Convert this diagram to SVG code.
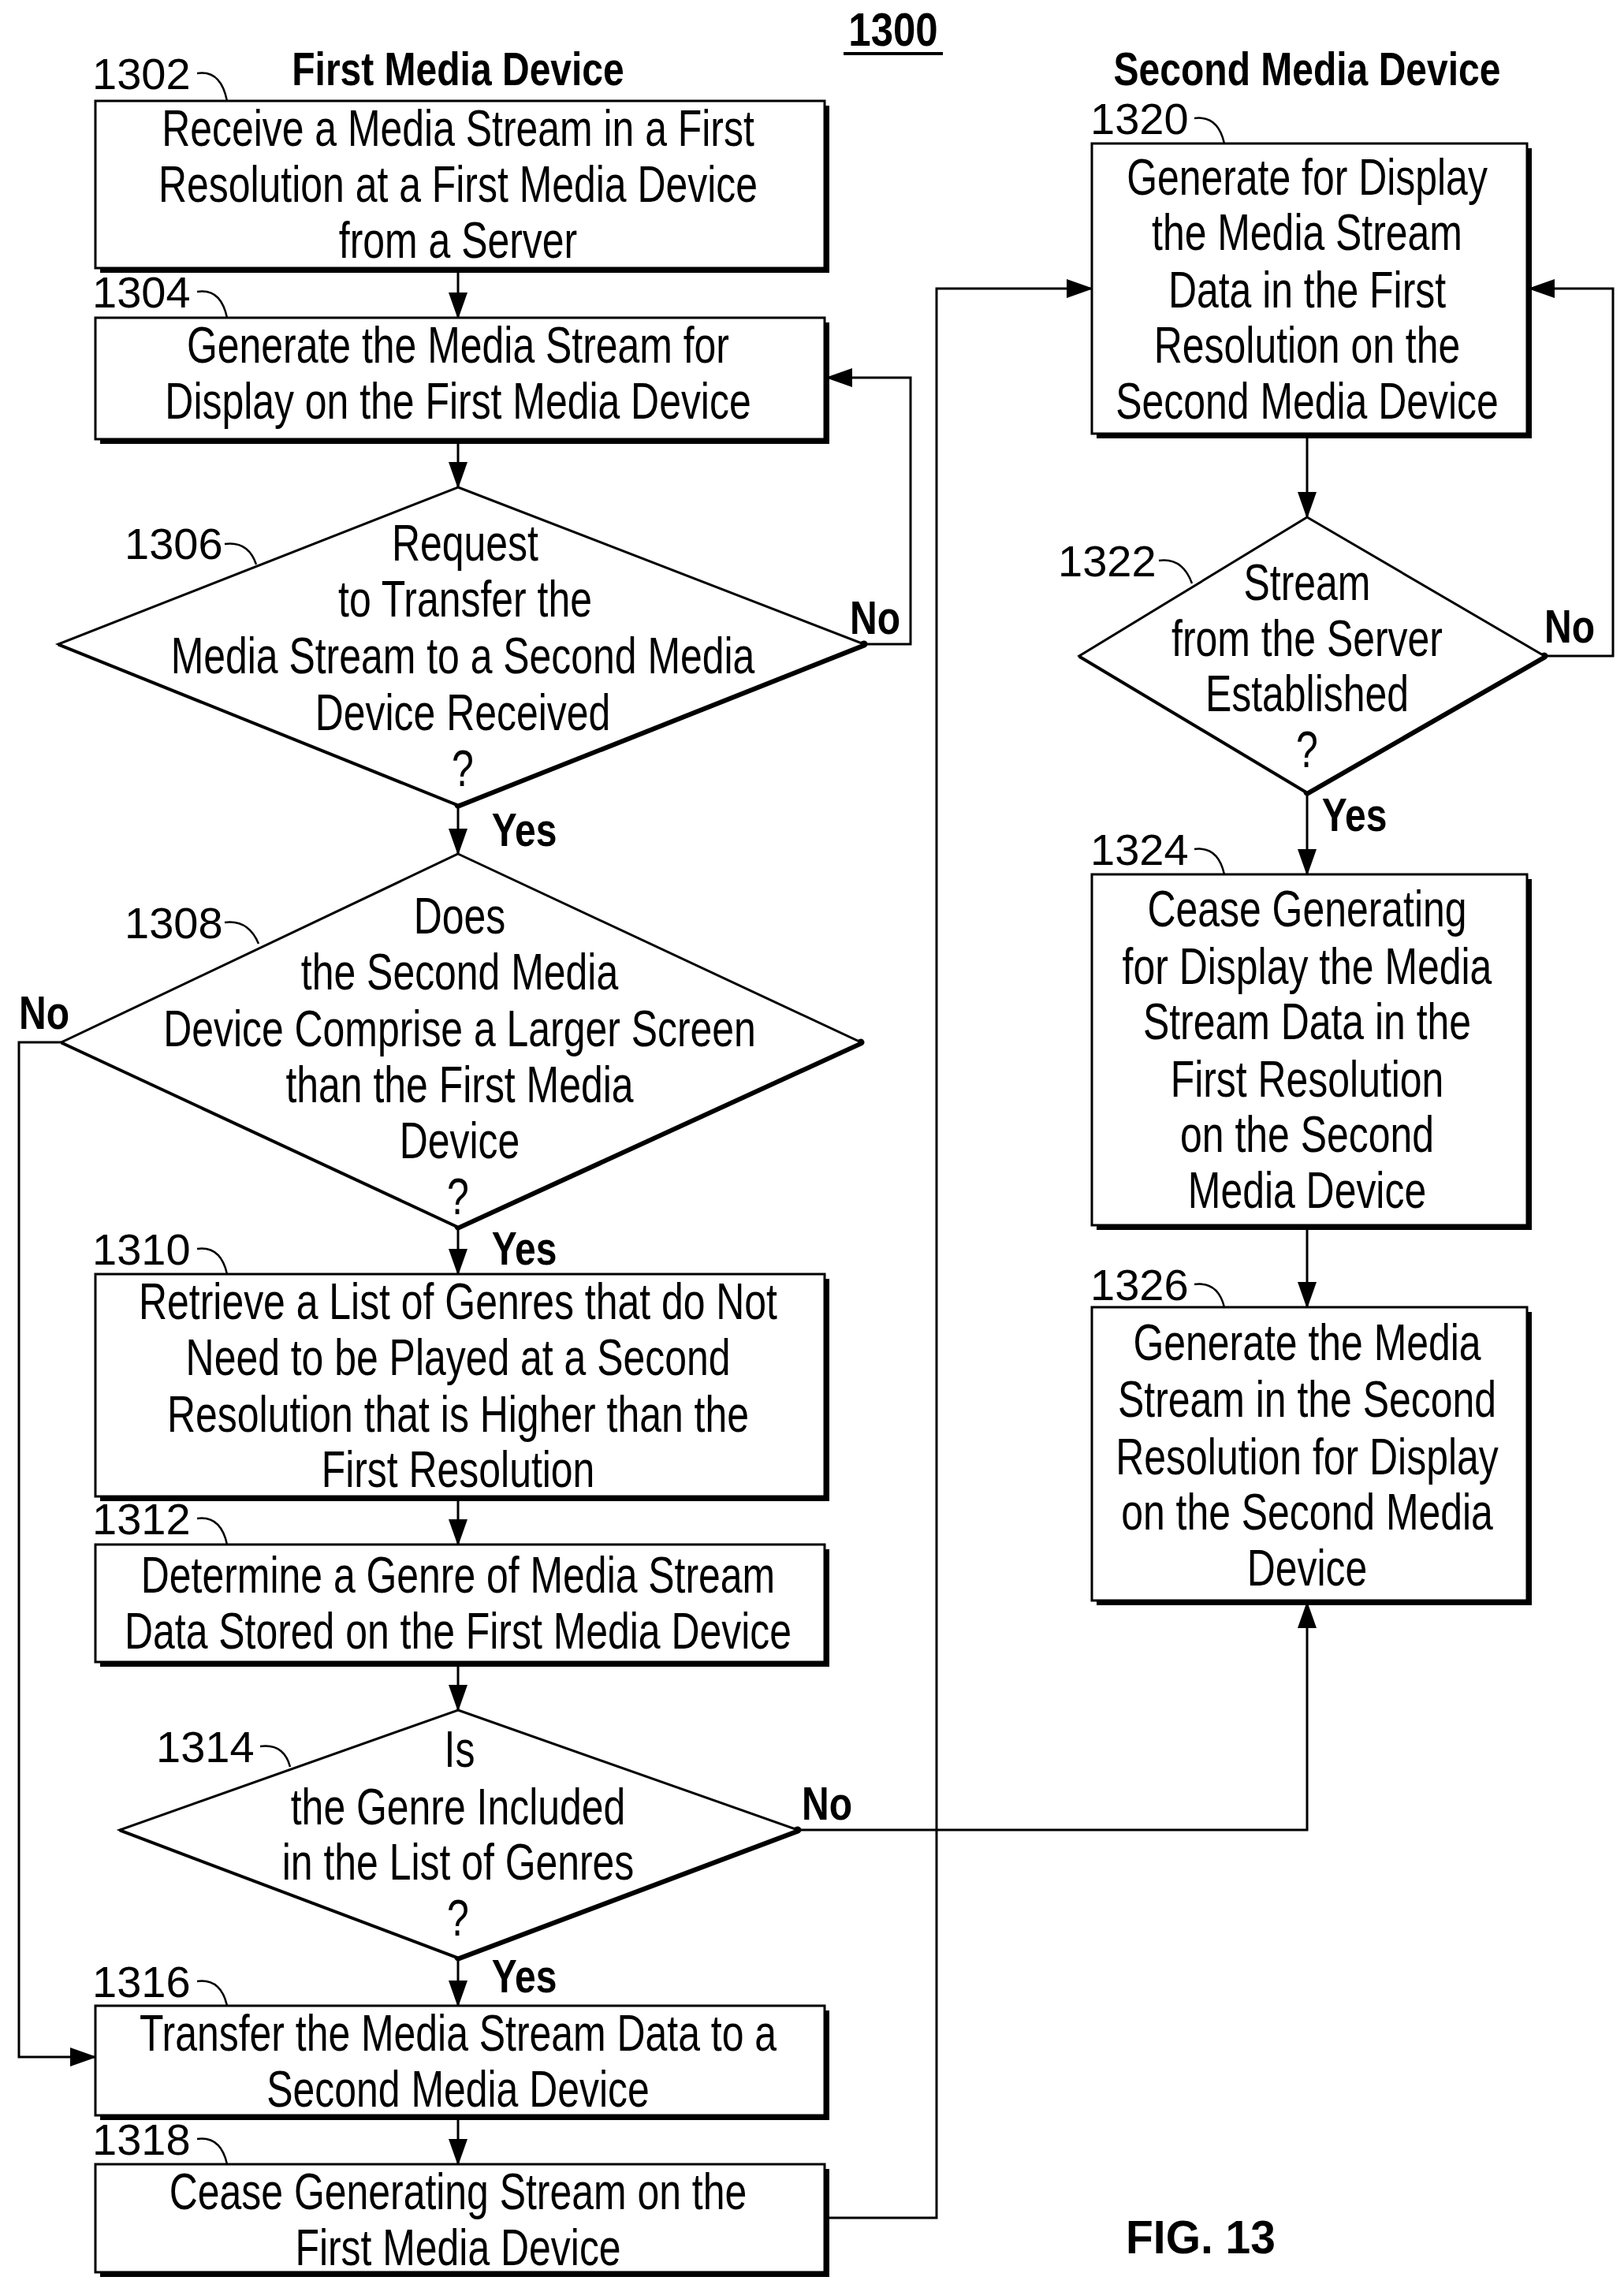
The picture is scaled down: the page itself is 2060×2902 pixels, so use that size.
<svg xmlns="http://www.w3.org/2000/svg" width="2060" height="2902" viewBox="0 0 2060 2902">
<style>
.bg{fill:#fff}
.box{fill:#fff;stroke:#000;stroke-width:3}
.sh{fill:none;stroke:#000;stroke-width:6}
.dsh{fill:none;stroke:#000;stroke-width:9;stroke-linecap:round}
.dsl{fill:none;stroke:#000;stroke-width:5}
.t{font-family:"Liberation Sans",Arial,sans-serif;font-size:64px;text-anchor:middle;fill:#000}
.lbl{font-family:"Liberation Sans",Arial,sans-serif;font-size:56px;fill:#000}
.b{font-family:"Liberation Sans",Arial,sans-serif;font-size:60px;font-weight:bold;fill:#000}
.sq{fill:none;stroke:#000;stroke-width:2.5}
.c{fill:none;stroke:#000;stroke-width:3}
</style>
<defs>
<marker id="ar" markerUnits="userSpaceOnUse" markerWidth="34" markerHeight="24" refX="32" refY="12" orient="auto">
<path d="M0,0 L34,12 L0,24 Z" fill="#000"/>
</marker>
</defs>
<rect class="bg" x="0" y="0" width="2060" height="2902"/>

<text class="b" x="1133" y="58" text-anchor="middle" transform="translate(1133 0) scale(0.85 1) translate(-1133 0)">1300</text>
<line x1="1070" y1="68" x2="1196" y2="68" stroke="#000" stroke-width="4"/>
<text class="b" transform="translate(581 108) scale(0.8 1)" text-anchor="middle">First Media Device</text>
<text class="b" transform="translate(1658 108) scale(0.8 1)" text-anchor="middle">Second Media Device</text>
<text class="b" transform="translate(1523 2858) scale(0.95 1)" text-anchor="middle">FIG. 13</text>

<g id="connectors">
<path class="c" d="M581,340 V403" marker-end="url(#ar)"/>
<path class="c" d="M581,557 V618" marker-end="url(#ar)"/>
<path class="c" d="M1096,817 H1155 V479 H1049" marker-end="url(#ar)"/>
<path class="c" d="M581,1021 V1083" marker-end="url(#ar)"/>
<path class="c" d="M78,1322 H24 V2609 H121" marker-end="url(#ar)"/>
<path class="c" d="M581,1556 V1616" marker-end="url(#ar)"/>
<path class="c" d="M581,1898 V1959" marker-end="url(#ar)"/>
<path class="c" d="M581,2108 V2169" marker-end="url(#ar)"/>
<path class="c" d="M581,2483 V2544" marker-end="url(#ar)"/>
<path class="c" d="M581,2683 V2745" marker-end="url(#ar)"/>
<path class="c" d="M1012,2321 H1658 V2033" marker-end="url(#ar)"/>
<path class="c" d="M1049,2813 H1188 V366 H1385" marker-end="url(#ar)"/>
<path class="c" d="M1658,550 V656" marker-end="url(#ar)"/>
<path class="c" d="M1959,832 H2046 V366 H1940" marker-end="url(#ar)"/>
<path class="c" d="M1658,1005 V1109" marker-end="url(#ar)"/>
<path class="c" d="M1658,1554 V1658" marker-end="url(#ar)"/>
<text class="b" transform="translate(1110 804) scale(0.8 1)" text-anchor="middle">No</text>
<text class="b" transform="translate(665 1073) scale(0.8 1)" text-anchor="middle">Yes</text>
<text class="b" transform="translate(56 1305) scale(0.8 1)" text-anchor="middle">No</text>
<text class="b" transform="translate(665 1604) scale(0.8 1)" text-anchor="middle">Yes</text>
<text class="b" transform="translate(1049 2308) scale(0.8 1)" text-anchor="middle">No</text>
<text class="b" transform="translate(665 2527) scale(0.8 1)" text-anchor="middle">Yes</text>
<text class="b" transform="translate(1991 815) scale(0.8 1)" text-anchor="middle">No</text>
<text class="b" transform="translate(1718 1054) scale(0.8 1)" text-anchor="middle">Yes</text>
</g>

<g id="n1302">
<path class="sh" d="M127,343 H1049 V134"/>
<rect class="box" x="121" y="128" width="925" height="212"/>
<text class="lbl" x="117" y="113">1302</text>
<path class="sq" d="M250,93 Q280,88 288,128"/>
<text class="t" transform="translate(581 185) scale(0.78 1)">Receive a Media Stream in a First</text>
<text class="t" transform="translate(581 256) scale(0.78 1)">Resolution at a First Media Device</text>
<text class="t" transform="translate(581 327) scale(0.78 1)">from a Server</text>
</g>

<g id="n1304">
<path class="sh" d="M127,560 H1049 V409"/>
<rect class="box" x="121" y="403" width="925" height="154"/>
<text class="lbl" x="117" y="390">1304</text>
<path class="sq" d="M250,370 Q280,365 288,403"/>
<text class="t" transform="translate(581 460) scale(0.78 1)">Generate the Media Stream for</text>
<text class="t" transform="translate(581 531) scale(0.78 1)">Display on the First Media Device</text>
</g>

<g id="n1306">
<path class="dsl" d="M74,817 L581,1021"/>
<path class="dsh" d="M1096,817 L581,1021"/>
<polygon class="box" points="581,618 1096,817 581,1021 74,817"/>
<text class="lbl" x="158" y="709">1306</text>
<path class="sq" d="M285,690 Q315,686 325,716"/>
<text class="t" transform="translate(590 711) scale(0.78 1)">Request</text>
<text class="t" transform="translate(590 782) scale(0.78 1)">to Transfer the</text>
<text class="t" transform="translate(587 854) scale(0.78 1)">Media Stream to a Second Media</text>
<text class="t" transform="translate(587 926) scale(0.78 1)">Device Received</text>
<text class="t" transform="translate(587 997) scale(0.78 1)">?</text>
</g>

<g id="n1308">
<path class="dsl" d="M78,1322 L581,1556"/>
<path class="dsh" d="M1092,1322 L581,1556"/>
<polygon class="box" points="581,1083 1092,1322 581,1556 78,1322"/>
<text class="lbl" x="158" y="1190">1308</text>
<path class="sq" d="M285,1170 Q315,1166 328,1197"/>
<text class="t" transform="translate(583 1184) scale(0.78 1)">Does</text>
<text class="t" transform="translate(583 1255) scale(0.78 1)">the Second Media</text>
<text class="t" transform="translate(583 1327) scale(0.78 1)">Device Comprise a Larger Screen</text>
<text class="t" transform="translate(583 1398) scale(0.78 1)">than the First Media</text>
<text class="t" transform="translate(583 1469) scale(0.78 1)">Device</text>
<text class="t" transform="translate(581 1540) scale(0.78 1)">?</text>
</g>

<g id="n1310">
<path class="sh" d="M127,1901 H1049 V1622"/>
<rect class="box" x="121" y="1616" width="925" height="282"/>
<text class="lbl" x="117" y="1604">1310</text>
<path class="sq" d="M250,1584 Q280,1580 288,1616"/>
<text class="t" transform="translate(581 1673) scale(0.78 1)">Retrieve a List of Genres that do Not</text>
<text class="t" transform="translate(581 1744) scale(0.78 1)">Need to be Played at a Second</text>
<text class="t" transform="translate(581 1816) scale(0.78 1)">Resolution that is Higher than the</text>
<text class="t" transform="translate(581 1886) scale(0.78 1)">First Resolution</text>
</g>

<g id="n1312">
<path class="sh" d="M127,2111 H1049 V1965"/>
<rect class="box" x="121" y="1959" width="925" height="149"/>
<text class="lbl" x="117" y="1946">1312</text>
<path class="sq" d="M250,1926 Q280,1922 288,1959"/>
<text class="t" transform="translate(581 2020) scale(0.78 1)">Determine a Genre of Media Stream</text>
<text class="t" transform="translate(581 2091) scale(0.78 1)">Data Stored on the First Media Device</text>
</g>

<g id="n1314">
<path class="dsl" d="M152,2321 L581,2483"/>
<path class="dsh" d="M1012,2321 L581,2483"/>
<polygon class="box" points="581,2169 1012,2321 581,2483 152,2321"/>
<text class="lbl" x="198" y="2235">1314</text>
<path class="sq" d="M330,2215 Q360,2211 368,2241"/>
<text class="t" transform="translate(583 2241) scale(0.78 1)">Is</text>
<text class="t" transform="translate(581 2314) scale(0.78 1)">the Genre Included</text>
<text class="t" transform="translate(581 2384) scale(0.78 1)">in the List of Genres</text>
<text class="t" transform="translate(581 2455) scale(0.78 1)">?</text>
</g>

<g id="n1316">
<path class="sh" d="M127,2686 H1049 V2550"/>
<rect class="box" x="121" y="2544" width="925" height="139"/>
<text class="lbl" x="117" y="2533">1316</text>
<path class="sq" d="M250,2513 Q280,2509 288,2544"/>
<text class="t" transform="translate(581 2601) scale(0.78 1)">Transfer the Media Stream Data to a</text>
<text class="t" transform="translate(581 2672) scale(0.78 1)">Second Media Device</text>
</g>

<g id="n1318">
<path class="sh" d="M127,2885 H1049 V2751"/>
<rect class="box" x="121" y="2745" width="925" height="137"/>
<text class="lbl" x="117" y="2733">1318</text>
<path class="sq" d="M250,2713 Q280,2709 288,2745"/>
<text class="t" transform="translate(581 2802) scale(0.78 1)">Cease Generating Stream on the</text>
<text class="t" transform="translate(581 2873) scale(0.78 1)">First Media Device</text>
</g>

<g id="n1320">
<path class="sh" d="M1391,553 H1940 V188"/>
<rect class="box" x="1385" y="182" width="552" height="368"/>
<text class="lbl" x="1383" y="170">1320</text>
<path class="sq" d="M1515,150 Q1545,146 1553,182"/>
<text class="t" transform="translate(1658 247) scale(0.78 1)">Generate for Display</text>
<text class="t" transform="translate(1658 317) scale(0.78 1)">the Media Stream</text>
<text class="t" transform="translate(1658 390) scale(0.78 1)">Data in the First</text>
<text class="t" transform="translate(1658 460) scale(0.78 1)">Resolution on the</text>
<text class="t" transform="translate(1658 531) scale(0.78 1)">Second Media Device</text>
</g>

<g id="n1322">
<path class="dsl" d="M1369,832 L1658,1005"/>
<path class="dsh" d="M1959,832 L1658,1005"/>
<polygon class="box" points="1658,656 1959,832 1658,1005 1369,832"/>
<text class="lbl" x="1342" y="731">1322</text>
<path class="sq" d="M1470,711 Q1500,707 1512,740"/>
<text class="t" transform="translate(1658 761) scale(0.78 1)">Stream</text>
<text class="t" transform="translate(1658 832) scale(0.78 1)">from the Server</text>
<text class="t" transform="translate(1658 902) scale(0.78 1)">Established</text>
<text class="t" transform="translate(1658 973) scale(0.78 1)">?</text>
</g>

<g id="n1324">
<path class="sh" d="M1391,1557 H1940 V1115"/>
<rect class="box" x="1385" y="1109" width="552" height="445"/>
<text class="lbl" x="1383" y="1097">1324</text>
<path class="sq" d="M1515,1077 Q1545,1073 1553,1109"/>
<text class="t" transform="translate(1658 1175) scale(0.78 1)">Cease Generating</text>
<text class="t" transform="translate(1658 1248) scale(0.78 1)">for Display the Media</text>
<text class="t" transform="translate(1658 1318) scale(0.78 1)">Stream Data in the</text>
<text class="t" transform="translate(1658 1391) scale(0.78 1)">First Resolution</text>
<text class="t" transform="translate(1658 1461) scale(0.78 1)">on the Second</text>
<text class="t" transform="translate(1658 1532) scale(0.78 1)">Media Device</text>
</g>

<g id="n1326">
<path class="sh" d="M1391,2033 H1940 V1664"/>
<rect class="box" x="1385" y="1658" width="552" height="372"/>
<text class="lbl" x="1383" y="1649">1326</text>
<path class="sq" d="M1515,1629 Q1545,1625 1553,1658"/>
<text class="t" transform="translate(1658 1725) scale(0.78 1)">Generate the Media</text>
<text class="t" transform="translate(1658 1797) scale(0.78 1)">Stream in the Second</text>
<text class="t" transform="translate(1658 1870) scale(0.78 1)">Resolution for Display</text>
<text class="t" transform="translate(1658 1940) scale(0.78 1)">on the Second Media</text>
<text class="t" transform="translate(1658 2011) scale(0.78 1)">Device</text>
</g>
</svg>
